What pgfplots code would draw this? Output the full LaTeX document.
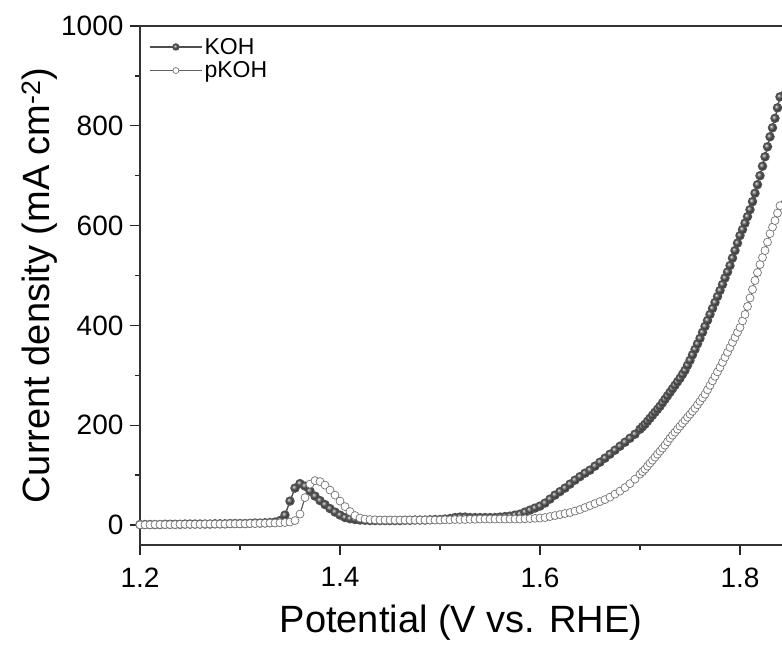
\documentclass[border=0pt]{standalone}
\usepackage{fontspec}
\setmainfont{Liberation Sans}
\usepackage{pgfplots}
\pgfplotsset{compat=1.18}
\usetikzlibrary{calc}

\definecolor{kohline}{RGB}{80,80,80}
\definecolor{pkohline}{RGB}{95,95,95}

\begin{document}
\begin{tikzpicture}
\begin{axis}[
    name=ax,
    scale only axis,
    width=642pt, height=519pt,
    xmin=1.2, xmax=1.842,
    ymin=-40, ymax=1000,
    axis x line*=box,
    axis y line*=left,
    xtick pos=left, ytick pos=left,
    xtick={1.2,1.4,1.6,1.8},
    ytick={0,200,400,600,800,1000},
    minor x tick num=1, minor y tick num=1,
    tick align=outside,
    major tick length=10pt, minor tick length=5pt,
    every tick/.style={black!85, line width=1.4pt},
    axis line style={black!80, line width=1.8pt},
    /pgf/number format/assume math mode=true,
    tick label style={font=\fontsize{28}{32}\selectfont},
    xticklabel style={/pgf/number format/.cd, fixed, fixed zerofill, precision=1},
    yticklabel style={/pgf/number format/1000 sep={}},
    xticklabel shift=9pt, yticklabel shift=3pt,
    xlabel={Potential (V vs. RHE)},
    ylabel={Current density (mA cm\textsuperscript{-2})},
    label style={font=\fontsize{38}{44}\selectfont},
    xlabel style={at={(axis description cs:0.5,0)}, anchor=center, yshift=-78pt},
    ylabel style={at={(axis description cs:0,0.5)}, anchor=center, yshift=100pt},
    legend style={at={(axis description cs:0,1)}, anchor=north west,
        xshift=6pt, yshift=-8pt, draw=none, fill=none,
        font=\fontsize{23}{26}\selectfont, row sep=2pt,
        nodes={inner sep=2pt}},
    legend cell align=left,
    legend image code/.code={
        \draw[#1, mark size=3pt, mark repeat=2, mark phase=2]
        plot coordinates {(0pt,0pt) (26pt,0pt) (52pt,0pt)};
    },
]
% KOH
\addplot[kohline, line width=1.4pt, mark=ball,
    mark options={ball color=black!65, draw=none}, mark size=4pt]
coordinates {
(1.200,1) (1.205,1) (1.210,1) (1.215,1) (1.220,1) (1.225,1.5) (1.230,1.5)
(1.235,1.5) (1.240,1.5) (1.245,2) (1.250,2) (1.255,2) (1.260,2) (1.265,2)
(1.270,2) (1.275,2.5) (1.280,2.5) (1.285,2.5) (1.290,3) (1.295,3) (1.300,3)
(1.305,3) (1.310,3.5) (1.315,4) (1.320,4) (1.325,4.5) (1.330,5) (1.335,6)
(1.340,9) (1.345,20) (1.350,48) (1.355,74) (1.360,83) (1.365,78) (1.370,68)
(1.375,58) (1.380,49) (1.385,41) (1.390,33) (1.395,26) (1.400,20) (1.405,15)
(1.410,12.5) (1.415,11) (1.420,10) (1.425,9.5) (1.430,9) (1.435,9) (1.440,9)
(1.445,9) (1.450,9) (1.455,9) (1.460,9) (1.465,9.5) (1.470,9.5) (1.475,10)
(1.480,10) (1.485,10) (1.490,10.5) (1.495,11) (1.500,11) (1.505,12) (1.510,13)
(1.515,15) (1.520,16) (1.525,16) (1.530,15) (1.535,15) (1.540,15) (1.545,15)
(1.550,15) (1.555,15) (1.560,16) (1.565,17) (1.570,18) (1.575,20) (1.580,22)
(1.585,26) (1.590,30) (1.595,34) (1.600,38) (1.605,44) (1.610,52) (1.615,60)
(1.620,67) (1.625,74) (1.630,82) (1.635,90) (1.640,97) (1.645,104) (1.650,110)
(1.655,118) (1.660,126) (1.665,134) (1.670,142) (1.675,150) (1.680,158)
(1.685,166) (1.690,174) (1.695,182) (1.700,192) (1.7025,197) (1.705,202)
(1.7075,208) (1.710,214) (1.7125,220) (1.715,226) (1.7175,232) (1.720,238)
(1.7225,245) (1.725,252) (1.7275,259) (1.730,266) (1.7325,273) (1.735,280)
(1.7375,287) (1.740,294) (1.7425,302) (1.745,310) (1.7475,320) (1.750,330)
(1.7525,341) (1.755,352) (1.7575,363) (1.760,374) (1.7625,386) (1.765,398)
(1.7675,410) (1.770,422) (1.7725,434) (1.775,446) (1.7775,458) (1.780,470)
(1.7825,482) (1.785,495) (1.7875,507) (1.790,520) (1.7925,535) (1.795,550)
(1.7975,565) (1.800,580) (1.8025,592) (1.805,605) (1.8075,618) (1.810,632)
(1.8125,648) (1.815,665) (1.8175,682) (1.820,700) (1.8225,719) (1.825,738)
(1.8275,758) (1.830,778) (1.8325,796) (1.835,815) (1.8375,836) (1.840,858)
(1.8425,870) (1.845,880)
};
\addlegendentry{KOH}
% pKOH
\addplot[pkohline, line width=1.2pt, mark=*,
    mark options={fill=white, draw=black!55, line width=0.7pt}, mark size=4pt]
coordinates {
(1.200,0.5) (1.205,0.5) (1.210,0.5) (1.215,1) (1.220,1) (1.225,1) (1.230,1)
(1.235,1) (1.240,1.5) (1.245,1.5) (1.250,1.5) (1.255,1.5) (1.260,1.5) (1.265,2)
(1.270,2) (1.275,2) (1.280,2) (1.285,2) (1.290,2.5) (1.295,2.5) (1.300,2.5)
(1.305,2.5) (1.310,3) (1.315,3) (1.320,3.5) (1.325,3.5) (1.330,4) (1.335,4)
(1.340,4.5) (1.345,5) (1.350,6) (1.355,9) (1.360,22) (1.365,55) (1.370,82)
(1.375,89) (1.380,87) (1.385,80) (1.390,70) (1.395,60) (1.400,48) (1.405,37)
(1.410,27) (1.415,19) (1.420,14) (1.425,12) (1.430,11) (1.435,10.5) (1.440,10)
(1.445,10) (1.450,10) (1.455,10) (1.460,10) (1.465,10) (1.470,10) (1.475,10)
(1.480,10) (1.485,10) (1.490,10) (1.495,10) (1.500,10) (1.505,10.5) (1.510,10.5)
(1.515,11) (1.520,11) (1.525,11) (1.530,11.5) (1.535,11.5) (1.540,12)
(1.545,12) (1.550,12) (1.555,12) (1.560,12) (1.565,12) (1.570,12) (1.575,12)
(1.580,12) (1.585,12.5) (1.590,13) (1.595,13.5) (1.600,14) (1.605,15)
(1.610,17) (1.615,19) (1.620,21) (1.625,23) (1.630,25) (1.635,28) (1.640,31)
(1.645,35) (1.650,39) (1.655,43) (1.660,47) (1.665,51) (1.670,56) (1.675,62)
(1.680,68) (1.685,75) (1.690,83) (1.695,92) (1.700,102) (1.7025,107)
(1.705,112) (1.7075,118) (1.710,124) (1.7125,130) (1.715,136) (1.7175,142)
(1.720,148) (1.7225,154) (1.725,160) (1.7275,167) (1.730,174) (1.7325,180)
(1.735,186) (1.7375,192) (1.740,198) (1.7425,204) (1.745,210) (1.7475,216)
(1.750,222) (1.7525,228) (1.755,234) (1.7575,241) (1.760,248) (1.7625,255)
(1.765,262) (1.7675,271) (1.770,280) (1.7725,289) (1.775,298) (1.7775,307)
(1.780,316) (1.7825,326) (1.785,336) (1.7875,346) (1.790,356) (1.7925,366)
(1.795,376) (1.7975,386) (1.800,396) (1.8025,409) (1.805,422) (1.8075,438)
(1.810,455) (1.8125,472) (1.815,490) (1.8175,506) (1.820,522) (1.8225,536)
(1.825,550) (1.8275,567) (1.830,584) (1.8325,597) (1.835,610) (1.8375,625)
(1.840,640) (1.8425,651) (1.845,662)
};
\addlegendentry{pKOH}
\end{axis}
\pgfresetboundingbox
\path[use as bounding box] ($(ax.south west)+(-140pt,-110pt)$) rectangle ($(ax.north east)+(0pt,26pt)$);
\end{tikzpicture}
\end{document}
